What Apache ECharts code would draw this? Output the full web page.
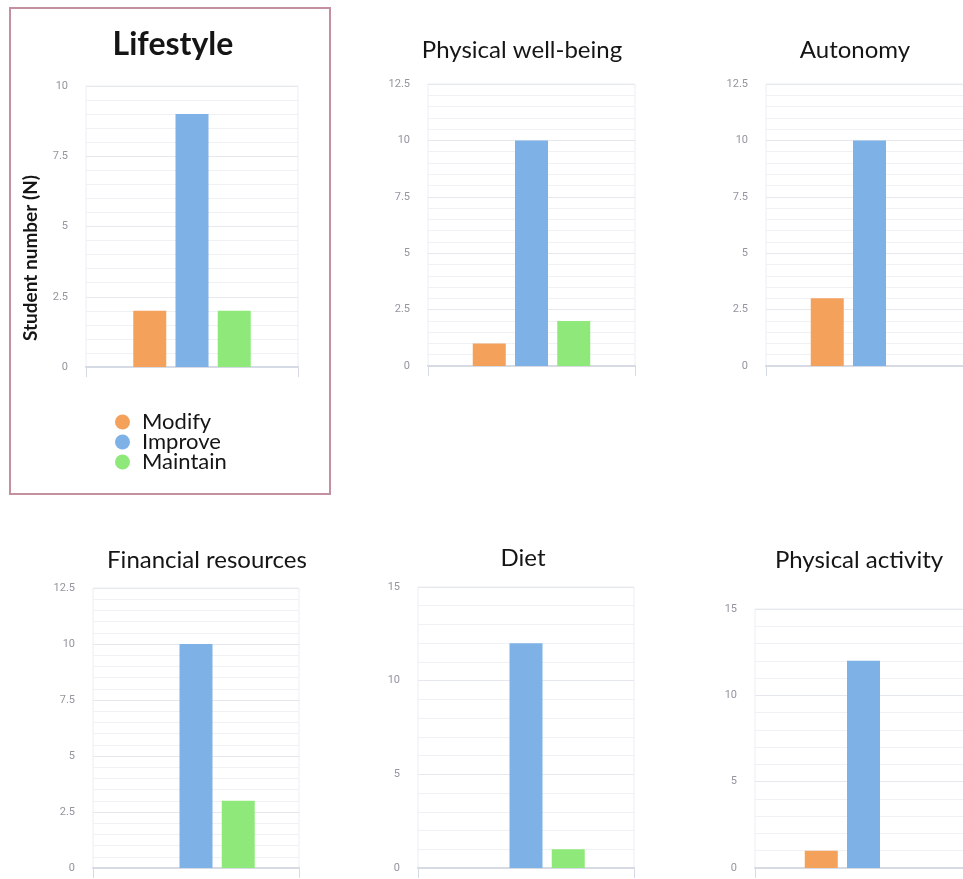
<!DOCTYPE html>
<html>
<head>
<meta charset="utf-8">
<script src="https://cdn.jsdelivr.net/npm/echarts@6/dist/echarts.min.js"></script>
<style>
  html, body { margin: 0; padding: 0; background: #fff; }
  #chart { width: 963px; height: 879px; }
</style>
</head>
<body>
<div id="chart"></div>
<script>
// values
const panels = ['Lifestyle', 'Physical well-being', 'Autonomy', 'Financial resources', 'Diet', 'Physical activity'];
const seriesNames = ['Modify', 'Improve', 'Maintain'];
const modify = [2, 1, 3, 0, 0, 1];
const improve = [9, 10, 10, 10, 12, 12];
const maintain = [2, 2, 0, 3, 1, 0];
const yMax = [10, 12.5, 12.5, 12.5, 15, 15];
const yStep = [2.5, 2.5, 2.5, 2.5, 5, 5];

const colors = ['#f4a15c', '#7eb2e6', '#8fe97a'];

// plot boxes and title centres, in px
const layout = [
  { left: 86, top: 86, width: 212, height: 281, tx: 173, ty: 45 },
  { left: 428, top: 84, width: 207, height: 282, tx: 522, ty: 50 },
  { left: 766, top: 84, width: 207, height: 282, tx: 855, ty: 50 },
  { left: 93, top: 588, width: 206, height: 280, tx: 207, ty: 560 },
  { left: 418, top: 587, width: 216, height: 281, tx: 523, ty: 558 },
  { left: 755, top: 609, width: 217, height: 259, tx: 859, ty: 560 }
];

const values = [modify, improve, maintain];
const chart = echarts.init(document.getElementById('chart'));

// the right-hand plots run past the page edge, so don't let them shrink
const grid = layout.map(l => ({
  left: l.left, top: l.top, width: l.width, height: l.height,
  outerBoundsMode: 'none',
  containLabel: false,
  show: true, borderColor: '#eceef3', borderWidth: 1, backgroundColor: 'transparent'
}));

const xAxis = layout.map((l, i) => ({
  type: 'category',
  gridIndex: i,
  data: [''],
  axisLabel: { show: false },
  axisLine: { lineStyle: { color: '#d6dae4', width: 2 } },
  axisTick: { show: true, length: 10, lineStyle: { color: '#d6dae4', width: 1 } }
}));

const yAxis = layout.map((l, i) => ({
  type: 'value',
  gridIndex: i,
  min: 0,
  max: yMax[i],
  interval: yStep[i],
  axisLine: { show: false },
  axisTick: { show: false },
  axisLabel: { color: '#94949f', fontSize: 11, fontFamily: 'Roboto', margin: 18 },
  splitLine: { lineStyle: { color: '#e5e8ef', width: 1 } },
  minorTick: { show: false, splitNumber: 5 },
  minorSplitLine: { show: true, lineStyle: { color: '#eff1f5', width: 1 } }
}));

const series = [];
panels.forEach((p, i) => {
  seriesNames.forEach((name, k) => {
    series.push({
      type: 'bar',
      name: name,
      xAxisIndex: i,
      yAxisIndex: i,
      barWidth: 33,
      barGap: '28%',
      itemStyle: { color: colors[k] },
      data: [values[k][i]]
    });
  });
});

const titles = panels.map((p, i) => ({
  type: 'text',
  x: layout[i].tx,
  y: layout[i].ty,
  style: {
    text: p,
    textAlign: 'center',
    textVerticalAlign: 'middle',
    fill: '#151515',
    font: (i === 0 ? 'bold 32px' : '24px') + ' Lato'
  }
}));

chart.setOption({
  backgroundColor: '#fff',
  animation: false,
  color: colors,
  grid: grid,
  xAxis: xAxis,
  yAxis: yAxis,
  legend: {
    data: seriesNames,
    orient: 'vertical',
    left: 115,
    top: 411,
    padding: 0,
    itemGap: -2,
    itemWidth: 15,
    itemHeight: 15,
    icon: 'circle',
    selectedMode: false,
    textStyle: { fontFamily: 'Lato', fontSize: 22, color: '#151515', lineHeight: 19, padding: [0, 0, 0, 7] }
  },
  graphic: titles.concat([
    {
      type: 'rect',
      shape: { x: 10, y: 8, width: 320, height: 486 },
      style: { fill: 'none', stroke: '#c4909e', lineWidth: 2 }
    },
    {
      type: 'text',
      x: 31,
      y: 258,
      rotation: Math.PI / 2,
      style: {
        text: 'Student number (N)',
        textAlign: 'center',
        textVerticalAlign: 'middle',
        fill: '#151515',
        font: 'bold 19px Lato'
      }
    }
  ]),
  series: series
});
</script>
</body>
</html>
